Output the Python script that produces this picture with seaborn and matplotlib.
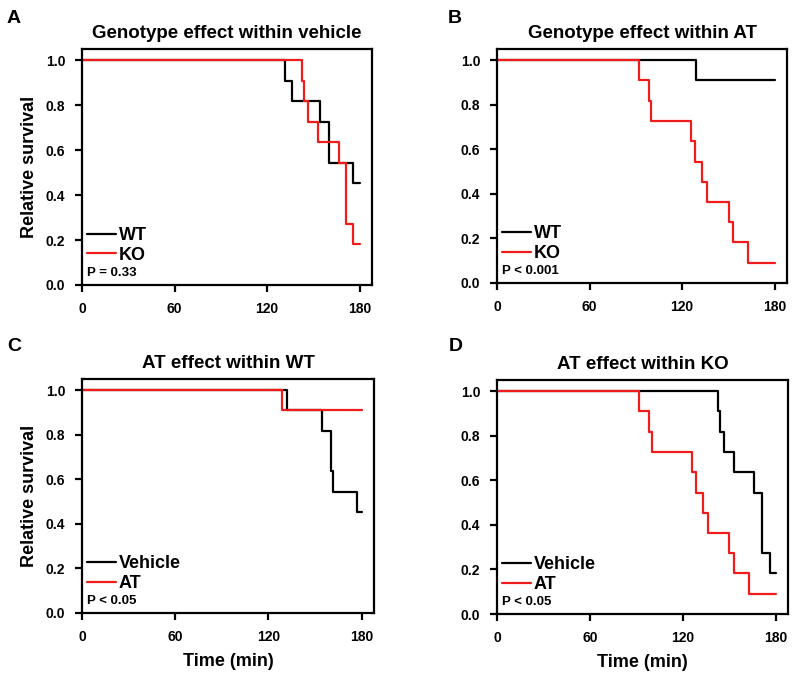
import matplotlib
matplotlib.use("Agg")
import matplotlib.pyplot as plt
import seaborn as sns
import pandas as pd

# ---------------- data (Kaplan-Meier step curves, n = 11 per group) ----------------
# Panel A: genotype effect within vehicle
a_wt_t = [0, 131.5, 136.4, 154.5, 160.0, 175.7, 180]
a_wt_s = [1.0, 0.909, 0.818, 0.727, 0.545, 0.455, 0.455]
a_ko_t = [0, 142.3, 143.8, 146.6, 153.0, 166.6, 171.4, 175.7, 180]
a_ko_s = [1.0, 0.909, 0.818, 0.727, 0.636, 0.545, 0.273, 0.182, 0.182]
# Panel B: genotype effect within AT
b_wt_t = [0, 128.8, 180]
b_wt_s = [1.0, 0.909, 0.909]
b_ko_t = [0, 91.8, 98.5, 99.9, 126.0, 128.6, 132.9, 136.2, 150.2, 153.0, 162.8, 180]
b_ko_s = [1.0, 0.909, 0.818, 0.727, 0.636, 0.545, 0.455, 0.364, 0.273, 0.182, 0.091, 0.091]
# Panel C: AT effect within WT
c_veh_t = [0, 131.9, 154.6, 160.2, 161.3, 176.9, 180]
c_veh_s = [1.0, 0.909, 0.818, 0.636, 0.545, 0.455, 0.455]
c_at_t = [0, 128.9, 180]
c_at_s = [1.0, 0.909, 0.909]
# Panel D: AT effect within KO
d_veh_t = [0, 142.5, 144.0, 146.5, 153.4, 166.3, 171.3, 176.1, 180]
d_veh_s = [1.0, 0.909, 0.818, 0.727, 0.636, 0.545, 0.273, 0.182, 0.182]
d_at_t = [0, 91.8, 98.5, 99.9, 126.0, 128.6, 132.9, 136.2, 150.2, 153.0, 162.8, 180]
d_at_s = [1.0, 0.909, 0.818, 0.727, 0.636, 0.545, 0.455, 0.364, 0.273, 0.182, 0.091, 0.091]

panel_letters = ["A", "B", "C", "D"]
titles = ["Genotype effect within vehicle", "Genotype effect within AT",
          "AT effect within WT", "AT effect within KO"]
group_labels = [["WT", "KO"], ["WT", "KO"], ["Vehicle", "AT"], ["Vehicle", "AT"]]
p_texts = ["P = 0.33", "P < 0.001", "P < 0.05", "P < 0.05"]
x_ticks = [0, 60, 120, 180]
y_ticks = [0.0, 0.2, 0.4, 0.6, 0.8, 1.0]

curves = [
    [(a_wt_t, a_wt_s), (a_ko_t, a_ko_s)],
    [(b_wt_t, b_wt_s), (b_ko_t, b_ko_s)],
    [(c_veh_t, c_veh_s), (c_at_t, c_at_s)],
    [(d_veh_t, d_veh_s), (d_at_t, d_at_s)],
]

# ---------------- style ----------------
sns.set_theme(style="white")
plt.rcParams["font.family"] = ["Liberation Sans", "DejaVu Sans"]
plt.rcParams["font.weight"] = "bold"
plt.rcParams["axes.labelweight"] = "bold"
plt.rcParams["axes.titleweight"] = "bold"
plt.rcParams["text.color"] = "black"
plt.rcParams["axes.labelcolor"] = "black"
plt.rcParams["xtick.color"] = "black"
plt.rcParams["ytick.color"] = "black"

colors = ["black", "#f01c1c"]

W, H = 798, 676
fig = plt.figure(figsize=(W / 100, H / 100), dpi=100)

# axes boxes in pixels: left, right, top, bottom
boxes = [(82, 372, 49, 285), (497, 787, 49, 283),
         (82, 374, 379, 613), (497, 788, 380, 614)]
letter_pos = [(7, 23), (448, 23), (7, 351), (449, 351)]

for i, (l, r, t, b) in enumerate(boxes):
    ax = fig.add_axes([l / W, 1 - b / H, (r - l) / W, (b - t) / H])
    for j, (tt, ss) in enumerate(curves[i]):
        df = pd.DataFrame({"Time": tt, "Survival": ss})
        sns.lineplot(data=df, x="Time", y="Survival", ax=ax, color=colors[j],
                     drawstyle="steps-post", estimator=None, sort=False,
                     linewidth=1.6, label=group_labels[i][j])
    ax.set_xlim(0, 188)
    ax.set_ylim(0, 1.05)
    ax.set_xticks(x_ticks)
    ax.set_xticklabels([str(v) for v in x_ticks])
    ax.set_yticks(y_ticks)
    ax.set_yticklabels([f"{v:.1f}" for v in y_ticks])
    ax.tick_params(axis="both", direction="out", length=5, width=1.6,
                   labelsize=10, pad=7, bottom=True, left=True, colors="black")
    for lab in ax.get_xticklabels() + ax.get_yticklabels():
        lab.set_fontweight("bold")
    for sp in ax.spines.values():
        sp.set_visible(True)
        sp.set_color("black")
        sp.set_linewidth(1.6)
    ax.set_title(titles[i], fontsize=13.5, fontweight="bold", pad=8)
    ax.set_xlabel("Time (min)" if i >= 2 else "", fontsize=13, fontweight="bold", labelpad=7)
    ax.set_ylabel("Relative survival" if i % 2 == 0 else "", fontsize=13,
                  fontweight="bold", labelpad=6)
    leg = ax.legend(loc="lower left", bbox_to_anchor=(0.018, 0.09), frameon=False,
                    handlelength=1.6, handletextpad=0.15, labelspacing=0.15,
                    borderaxespad=0, borderpad=0,
                    prop={"size": 13, "weight": "bold"})
    for txt in leg.get_texts():
        txt.set_color("black")
    ax.text(0.017, 0.025, p_texts[i], transform=ax.transAxes, fontsize=9.5,
            fontweight="bold", ha="left", va="bottom", color="black")
    fig.text(letter_pos[i][0] / W, 1 - letter_pos[i][1] / H, panel_letters[i],
             fontsize=14, fontweight="bold", ha="left", va="baseline", color="black")

fig.savefig("out.png", dpi=100)
